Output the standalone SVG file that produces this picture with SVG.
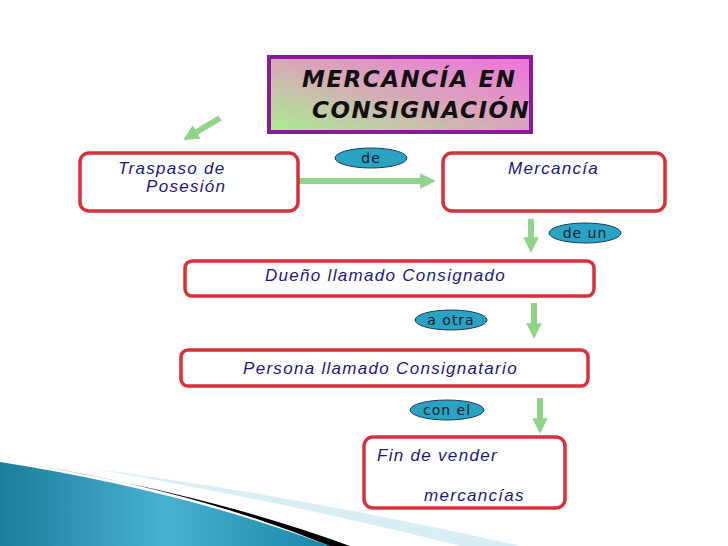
<svg xmlns="http://www.w3.org/2000/svg" width="728" height="546" viewBox="0 0 728 546">
<defs>
<linearGradient id="tg" x1="0" y1="1" x2="1" y2="0"><stop offset="0" stop-color="#a8f090"/><stop offset="0.5" stop-color="#d8a8b8"/><stop offset="1" stop-color="#f070e0"/></linearGradient>
<linearGradient id="sw" x1="0" y1="0" x2="1" y2="0"><stop offset="0" stop-color="#1a7f9a"/><stop offset="0.5" stop-color="#4ab0d0"/><stop offset="1" stop-color="#1a86a8"/></linearGradient>
<marker id="ah" viewBox="0 0 10 10" refX="5" refY="5" markerWidth="2.6" markerHeight="2.6" orient="auto"><path d="M0,0 L10,5 L0,10 z" fill="#8fd48a"/></marker>
</defs>
<style>
.box{fill:#fff;stroke:#d8303a;stroke-width:3.5}
.t{font-family:"Liberation Sans",Arial,sans-serif;font-style:italic;font-size:17px;letter-spacing:1.3px;fill:#1a1a7a}
.lab{fill:#2aa3c3;stroke:#1b3b5a;stroke-width:1}
.lt{font-family:"DejaVu Sans",sans-serif;font-size:14px;letter-spacing:1px;fill:#102030;text-anchor:middle}
.ar{stroke:#8fd48a;stroke-width:6;fill:none;marker-end:url(#ah)}
</style>
<rect width="728" height="546" fill="#fff"/>
<g id="swoosh">
<path d="M0,462 Q180,490 330,546 L0,546 z" fill="url(#sw)"/>
<path d="M40,466 Q200,493 330,546 L350,546 Q220,498 40,466 z" fill="#000"/>
<path d="M90,468 Q300,505 460,546 L520,546 Q320,500 90,468 z" fill="#d8eef4"/>
</g>
<g id="title">
<rect x="269" y="57" width="262" height="75" fill="url(#tg)" stroke="#8a1a9a" stroke-width="4"/>
<text font-family="DejaVu Sans,sans-serif" font-size="23" font-style="italic" font-weight="600" fill="#111" letter-spacing="1.5"><tspan x="302" y="87">MERCANCÍA EN</tspan><tspan x="312" y="118">CONSIGNACIÓN</tspan></text>
</g>
<g id="connectors">
<line class="ar" x1="220" y1="118" x2="190" y2="136"/>
<line class="ar" x1="298" y1="181" x2="428" y2="181"/>
<line class="ar" x1="531" y1="219" x2="531" y2="245"/>
<line class="ar" x1="534" y1="303" x2="534" y2="331"/>
<line class="ar" x1="540" y1="398" x2="540" y2="426"/>
</g>
<g id="n1"><rect class="box" x="80" y="153" width="218" height="58" rx="9"/><text class="t" x="118" y="174">Traspaso de</text><text class="t" x="146" y="192">Posesión</text></g>
<g id="n2"><rect class="box" x="443" y="153" width="222" height="58" rx="9"/><text class="t" x="508" y="174">Mercancía</text></g>
<g id="n3"><rect class="box" x="185" y="261" width="409" height="35" rx="7"/><text class="t" x="265" y="281">Dueño llamado Consignado</text></g>
<g id="n4"><rect class="box" x="181" y="350" width="407" height="36" rx="7"/><text class="t" x="243" y="374">Persona llamado Consignatario</text></g>
<g id="n5"><rect class="box" x="364" y="437" width="201" height="71" rx="9"/><text class="t" x="377" y="461">Fin de vender</text><text class="t" x="424" y="501">mercancías</text></g>
<g id="labels">
<ellipse class="lab" cx="371" cy="158" rx="36" ry="10"/><text class="lt" x="371" y="163">de</text>
<ellipse class="lab" cx="585" cy="233" rx="36" ry="10"/><text class="lt" x="585" y="238">de un</text>
<ellipse class="lab" cx="451" cy="320" rx="36" ry="10"/><text class="lt" x="451" y="325">a otra</text>
<ellipse class="lab" cx="447" cy="410" rx="37" ry="10"/><text class="lt" x="447" y="415">con el</text>
</g>
</svg>
